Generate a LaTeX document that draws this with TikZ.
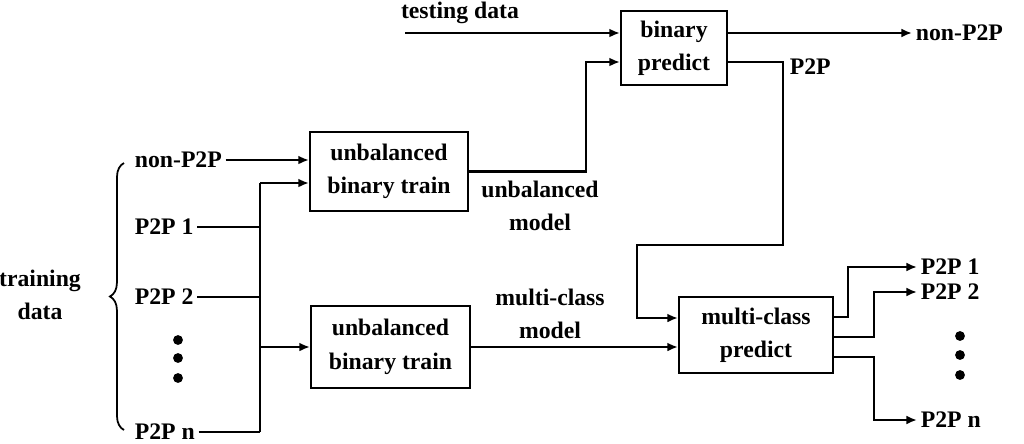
\documentclass[tikz,border=0pt]{standalone}
\usepackage{fontspec}
\setmainfont{Liberation Serif}
\usetikzlibrary{arrows.meta, positioning, calc, decorations.pathreplacing}

\begin{document}
\begin{tikzpicture}[x=0.02cm, y=-0.02cm,
    font=\fontsize{13.5}{19}\selectfont\bfseries,
    box/.style={rectangle, draw, line width=1.2pt, align=center, inner sep=2pt},
    lbl/.style={align=center, inner sep=2pt},
    wire/.style={line width=1.2pt},
    arr/.style={wire, -{Latex[length=6pt, width=5pt]}}]

    \useasboundingbox (0,0) rectangle (1024,443);

    % Training boxes
    \node[box, minimum width=3.16cm, minimum height=1.58cm] (ubt1) at (389,171.5) {unbalanced\\binary train};
    \node[box, minimum width=3.18cm, minimum height=1.64cm] (ubt2) at (390.5,347) {unbalanced\\binary train};

    % Predict boxes
    \node[box, minimum width=2.12cm, minimum height=1.48cm] (bp) at (674,48) {binary\\predict};
    \node[box, minimum width=3.08cm, minimum height=1.52cm] (mcp) at (756,335) {multi-class\\predict};

    % Training data
    \node[lbl] (tr) at (40,295) {training\\data};
    \node[lbl, anchor=west] (in0) at (131,160) {non-P2P};
    \node[lbl, anchor=west] (in1) at (131,227) {P2P 1};
    \node[lbl, anchor=west] (in2) at (131,297) {P2P 2};
    \node[lbl, anchor=west] (inn) at (131,432) {P2P n};
    \foreach \y in {340,358,378}
        \fill (178,\y) circle (2.8pt);
    \draw[line width=1pt, decorate, decoration={brace, amplitude=8pt}] (124,430) -- (124,163);

    % Bus to the training boxes
    \coordinate (bustop) at (260,183);
    \coordinate (busbot) at (260,432);
    \draw[wire] (bustop) -- (busbot);
    \draw[arr] (in0.east) -- (in0 -| ubt1.west);
    \draw[arr] (bustop) -- (bustop -| ubt1.west);
    \draw[wire] (in1.east) -- (in1 -| bustop);
    \draw[wire] (in2.east) -- (in2 -| bustop);
    \draw[wire] (inn.east) -- (inn -| bustop);
    \draw[arr] (ubt2 -| bustop) -- (ubt2.west);

    % Testing data
    \coordinate (tdin) at (405,33);
    \node[lbl] (td) at (460,13) {testing data};
    \draw[arr] (tdin) -- (tdin -| bp.west);

    % Models
    \node[lbl] (um) at (540,206) {unbalanced\\model};
    \node[lbl] (mm) at (550,314) {multi-class\\model};
    \draw[arr] (ubt1.east) -| ($(bp.west)+(-34,14)$) -- ($(bp.west)+(0,14)$);
    \draw[arr] (ubt2.east) -- (ubt2 -| mcp.west);

    % Binary outputs
    \node[lbl, anchor=west] (onon) at (912,33) {non-P2P};
    \node[lbl, anchor=west] (lp2p) at (786,67) {P2P};
    \draw[arr] (tdin -| bp.east) -- (onon.west);
    \draw[arr] ($(bp.east)+(0,14)$) -- ++(55,0) |- ($(mcp.west)+(-41,-90)$) |- ($(mcp.west)+(0,-17)$);

    % Multi-class outputs
    \node[lbl, anchor=west] (o1) at (917,267) {P2P 1};
    \node[lbl, anchor=west] (o2) at (917,292) {P2P 2};
    \node[lbl, anchor=west] (on) at (917,420) {P2P n};
    \draw[arr] ($(mcp.east)+(0,-18)$) -- ++(14,0) |- (o1.west);
    \draw[arr] ($(mcp.east)+(0,2)$) -- ++(40,0) |- (o2.west);
    \draw[arr] ($(mcp.east)+(0,22)$) -- ++(40,0) |- (on.west);
    \foreach \y in {336,355,375}
        \fill (960,\y) circle (2.8pt);
\end{tikzpicture}
\end{document}
